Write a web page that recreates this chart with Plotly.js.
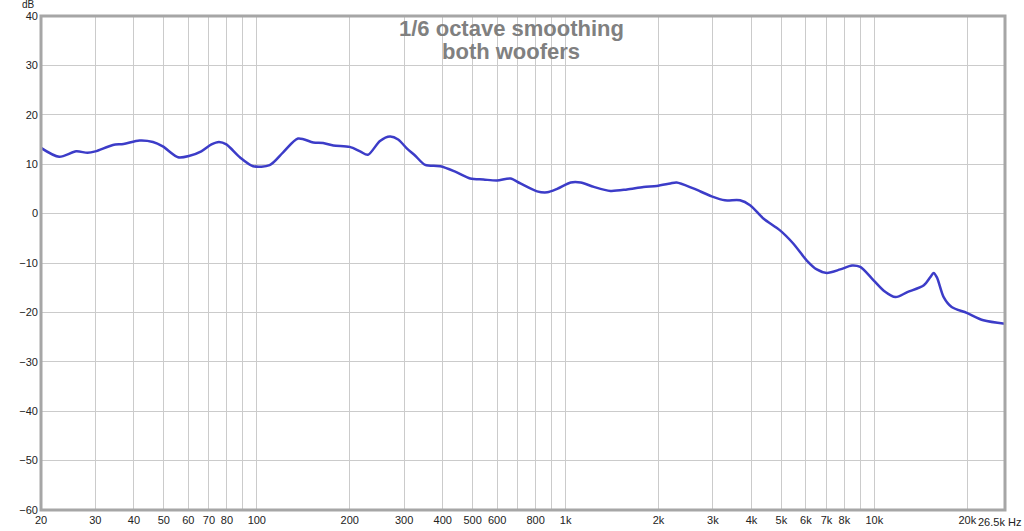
<!DOCTYPE html>
<html>
<head>
<meta charset="utf-8">
<script src="https://cdn.plot.ly/plotly-3.0.1.min.js"></script>
<style>html,body{margin:0;padding:0;background:#fff;}#chart{width:1024px;height:531px;}</style>
</head>
<body>
<div id="chart"></div>
<script>
const freqHz = [20, 22.9, 26.0, 28.3, 30, 34.2, 37.0, 41.7, 46.1, 49.6, 55.6, 60.6, 66.1, 71.3, 75.4, 79.7, 88.1, 97.3, 110, 121.7, 136, 152.4, 164, 177, 200, 216, 229, 250.6, 270, 287, 306, 326, 351, 393, 439, 491, 542, 600, 663, 714, 809, 872, 939, 1039, 1119, 1235, 1397, 1581, 1788, 1974, 2184, 2289, 2592, 2973, 3282, 3673, 3959, 4372, 4950, 5470, 6044, 6512, 7016, 7757, 8464, 9004, 9842, 10730, 11720, 12790, 14470, 15170, 15560, 15950, 16770, 17800, 19920, 22560, 26500];
const splDb = [13.3, 11.5, 12.6, 12.3, 12.6, 13.9, 14.1, 14.8, 14.5, 13.6, 11.4, 11.7, 12.6, 14.0, 14.5, 14.0, 11.4, 9.6, 9.8, 12.4, 15.2, 14.4, 14.3, 13.8, 13.5, 12.6, 11.9, 14.7, 15.6, 15.0, 13.2, 11.7, 9.85, 9.6, 8.5, 7.1, 6.9, 6.7, 7.1, 6.1, 4.5, 4.3, 5.0, 6.3, 6.3, 5.4, 4.6, 4.9, 5.4, 5.6, 6.1, 6.3, 5.1, 3.5, 2.7, 2.7, 1.7, -1.0, -3.4, -6.1, -9.5, -11.3, -12.0, -11.3, -10.5, -10.8, -13.2, -15.6, -16.9, -15.9, -14.5, -12.9, -12.0, -12.9, -16.9, -18.9, -20.1, -21.6, -22.3];

const xTickVals = [20,30,40,50,60,70,80,90,100,200,300,400,500,600,700,800,900,1000,2000,3000,4000,5000,6000,7000,8000,9000,10000,20000];
const xTickText = ['20','30','40','50','60','70','80','','100','200','300','400','500','600','','800','','1k','2k','3k','4k','5k','6k','7k','8k','','10k','20k'];
const yTickVals = [-60,-50,-40,-30,-20,-10,0,10,20,30,40];
const titleLines = ['1/6 octave smoothing', 'both woofers'];
const xEndLabel = '26.5k Hz';
const yUnitLabel = 'dB';

const fmin = 20, fmax = 26500;
const fontFam = '"Liberation Sans", Arial, sans-serif';

const trace = {
  x: freqHz, y: splDb, type: 'scatter', mode: 'lines',
  line: {color: '#3c3cc8', width: 2.5, shape: 'spline', smoothing: 0.8},
  hoverinfo: 'skip'
};

const titleFont = {family: fontFam, size: 22, color: '#808080', weight: 'bold'};

const layout = {
  width: 1024, height: 531,
  margin: {l: 41, r: 19, t: 16, b: 21, pad: 0},
  paper_bgcolor: '#ffffff', plot_bgcolor: '#ffffff',
  showlegend: false,
  font: {family: fontFam, size: 11, color: '#222'},
  xaxis: {
    type: 'log', range: [Math.log10(fmin), Math.log10(fmax)],
    tickmode: 'array', tickvals: xTickVals, ticktext: xTickText,
    showgrid: true, gridcolor: '#cbcbcb', gridwidth: 1,
    zeroline: false, showline: false, ticks: '', ticklabelstandoff: 2,
    tickfont: {family: fontFam, size: 11, color: '#222'}, fixedrange: true
  },
  yaxis: {
    range: [-60, 40], tickmode: 'array', tickvals: yTickVals,
    showgrid: true, gridcolor: '#cbcbcb', gridwidth: 1,
    zeroline: false, showline: false, ticks: '', ticklabelstandoff: 2,
    tickfont: {family: fontFam, size: 11, color: '#222'}, fixedrange: true
  },
  shapes: [
    {type: 'rect', xref: 'paper', yref: 'paper', x0: 0, x1: 1, y0: 0, y1: 1,
     line: {color: '#a6a6a6', width: 3}, fillcolor: 'rgba(0,0,0,0)'}
  ],
  annotations: [
    {text: titleLines[0], xref: 'paper', yref: 'paper', x: 0.4879, y: 0.9737,
     xanchor: 'center', yanchor: 'middle', showarrow: false, font: titleFont},
    {text: titleLines[1], xref: 'paper', yref: 'paper', x: 0.4879, y: 0.9291,
     xanchor: 'center', yanchor: 'middle', showarrow: false, font: titleFont},
    {text: xEndLabel, xref: 'paper', yref: 'paper', x: 1.0185, y: -0.008,
     xanchor: 'right', yanchor: 'top', showarrow: false,
     font: {family: fontFam, size: 11, color: '#222'}},
    {text: yUnitLabel, xref: 'paper', yref: 'paper', x: -0.004, y: 1.0, yshift: 4,
     xanchor: 'right', yanchor: 'bottom', showarrow: false,
     font: {family: fontFam, size: 10, color: '#222'}}
  ]
};

Plotly.newPlot('chart', [trace], layout, {displayModeBar: false, staticPlot: true});
</script>
</body>
</html>
